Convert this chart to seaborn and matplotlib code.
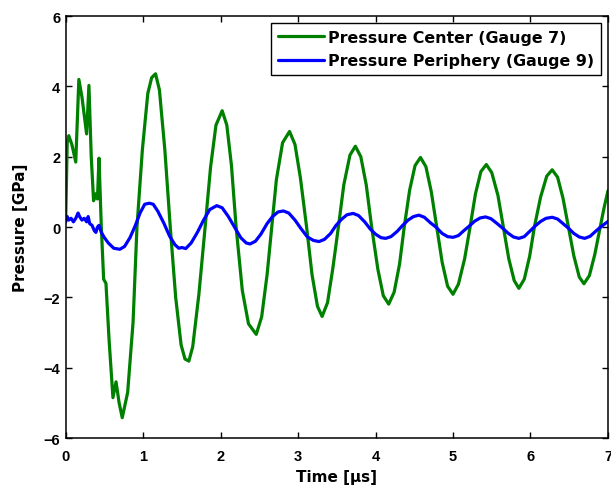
import numpy as np
import pandas as pd
import matplotlib
matplotlib.use("Agg")
import matplotlib.pyplot as plt
import seaborn as sns

# ================= DATA =================
t_center = [0.00, 0.02, 0.04, 0.08, 0.13, 0.17, 0.21, 0.27, 0.30, 0.33,
            0.36, 0.39, 0.41, 0.43, 0.46, 0.49, 0.52, 0.56, 0.61, 0.65,
            0.69, 0.73, 0.80, 0.87, 0.92, 0.99, 1.06, 1.11, 1.16, 1.21,
            1.28, 1.35, 1.42, 1.49, 1.54, 1.59, 1.64, 1.72, 1.80, 1.87,
            1.94, 2.02, 2.08, 2.14, 2.20, 2.28, 2.36, 2.46, 2.53, 2.60,
            2.66, 2.72, 2.80, 2.89, 2.96, 3.03, 3.11, 3.18, 3.25, 3.31,
            3.38, 3.45, 3.52, 3.59, 3.67, 3.74, 3.81, 3.88, 3.95, 4.03,
            4.10, 4.17, 4.24, 4.31, 4.37, 4.44, 4.51, 4.58, 4.65, 4.72,
            4.79, 4.86, 4.93, 5.00, 5.07, 5.15, 5.22, 5.29, 5.36, 5.43,
            5.50, 5.58, 5.65, 5.72, 5.79, 5.85, 5.92, 5.99, 6.05, 6.13,
            6.21, 6.28, 6.35, 6.42, 6.49, 6.56, 6.63, 6.69, 6.76, 6.83,
            6.90, 6.95, 7.00]
p_center = [0.2, 2.4, 2.6, 2.35, 1.85, 4.2, 3.7, 2.65, 4.03, 2.0,
            0.75, 0.95, 0.8, 1.96, 0.0, -1.48, -1.6, -3.2, -4.85, -4.4,
            -5.0, -5.42, -4.7, -2.7, 0.0, 2.2, 3.8, 4.25, 4.36, 3.9,
            2.2, 0.0, -2.0, -3.35, -3.75, -3.81, -3.4, -1.9, 0.0, 1.7,
            2.9, 3.31, 2.9, 1.75, 0.0, -1.8, -2.75, -3.05, -2.55, -1.35,
            0.0, 1.35, 2.4, 2.72, 2.35, 1.4, 0.0, -1.35, -2.25, -2.54,
            -2.15, -1.15, 0.0, 1.2, 2.05, 2.30, 2.0, 1.2, 0.0, -1.2,
            -1.95, -2.19, -1.85, -1.05, 0.0, 1.05, 1.75, 1.98, 1.72, 1.0,
            0.0, -1.0, -1.68, -1.91, -1.62, -0.9, 0.0, 0.95, 1.58, 1.78,
            1.55, 0.9, 0.0, -0.9, -1.52, -1.74, -1.48, -0.82, 0.0, 0.85,
            1.45, 1.63, 1.42, 0.82, 0.0, -0.82, -1.42, -1.61, -1.38, -0.78,
            0.0, 0.55, 1.03]

t_periph = [0.00, 0.02, 0.04, 0.07, 0.10, 0.13, 0.16, 0.18, 0.21, 0.24,
            0.27, 0.29, 0.31, 0.34, 0.37, 0.39, 0.41, 0.43, 0.46, 0.50,
            0.55, 0.62, 0.70, 0.76, 0.83, 0.90, 0.96, 1.02, 1.08, 1.13,
            1.19, 1.27, 1.34, 1.41, 1.46, 1.50, 1.55, 1.62, 1.70, 1.78,
            1.86, 1.95, 2.02, 2.10, 2.18, 2.26, 2.33, 2.38, 2.45, 2.52,
            2.60, 2.67, 2.74, 2.81, 2.88, 2.96, 3.04, 3.12, 3.20, 3.27,
            3.34, 3.42, 3.49, 3.56, 3.63, 3.71, 3.78, 3.86, 3.93, 4.00,
            4.07, 4.13, 4.20, 4.28, 4.35, 4.42, 4.49, 4.56, 4.63, 4.71,
            4.78, 4.86, 4.93, 5.00, 5.07, 5.14, 5.21, 5.28, 5.35, 5.42,
            5.49, 5.57, 5.64, 5.71, 5.78, 5.85, 5.92, 5.99, 6.06, 6.13,
            6.20, 6.28, 6.35, 6.42, 6.49, 6.56, 6.63, 6.70, 6.77, 6.84,
            6.92, 7.00]
p_periph = [0.15, 0.3, 0.2, 0.25, 0.15, 0.25, 0.4, 0.3, 0.2, 0.25,
            0.15, 0.3, 0.1, 0.05, -0.1, -0.15, 0.0, 0.05, -0.15, -0.3,
            -0.45, -0.6, -0.63, -0.55, -0.3, 0.05, 0.4, 0.65, 0.68, 0.65,
            0.45, 0.1, -0.25, -0.5, -0.6, -0.58, -0.61, -0.45, -0.15, 0.2,
            0.5, 0.61, 0.55, 0.3, 0.0, -0.3, -0.45, -0.48, -0.4, -0.2,
            0.1, 0.3, 0.43, 0.46, 0.4, 0.2, -0.05, -0.28, -0.38, -0.41,
            -0.35, -0.18, 0.05, 0.22, 0.35, 0.39, 0.33, 0.15, -0.05, -0.2,
            -0.3, -0.32, -0.27, -0.12, 0.05, 0.2, 0.3, 0.34, 0.28, 0.12,
            0.0, -0.18, -0.27, -0.29, -0.24, -0.1, 0.03, 0.17, 0.26, 0.29,
            0.24, 0.1, -0.03, -0.17, -0.28, -0.32, -0.27, -0.12, 0.03, 0.16,
            0.25, 0.28, 0.23, 0.1, -0.03, -0.18, -0.28, -0.32, -0.26, -0.12,
            0.03, 0.16]

labels = ["Pressure Center (Gauge 7)", "Pressure Periphery (Gauge 9)"]
colors = ["#008000", "#0000ff"]

df = pd.concat([
    pd.DataFrame({"time": t_center, "pressure": p_center, "series": labels[0]}),
    pd.DataFrame({"time": t_periph, "pressure": p_periph, "series": labels[1]}),
])

# ================= PLOT =================
sns.set_style("ticks")
plt.rcParams["font.family"] = ["Liberation Sans", "DejaVu Sans"]
plt.rcParams["font.weight"] = "bold"
for k in ["text.color", "axes.labelcolor", "xtick.color", "ytick.color", "axes.edgecolor"]:
    plt.rcParams[k] = "black"

label_font = dict(family=["DejaVu Sans"], size=11, weight="bold")

fig = plt.figure(figsize=(6.11, 4.89), dpi=100)
ax = fig.add_axes([0.1075, 0.102, 0.8875, 0.863])

sns.lineplot(data=df, x="time", y="pressure", hue="series", palette=colors,
             linewidth=2.3, sort=False, ax=ax)

ax.set_xlim(0, 7)
ax.set_ylim(-6, 6)
ax.set_xticks(range(0, 8))
ax.set_yticks(range(-6, 7, 2))
ax.set_yticklabels([str(v).replace("-", "\u2212") for v in range(-6, 7, 2)])
ax.tick_params(direction="in", length=4, width=1, top=True, right=True,
               labelsize=10.5)
ax.tick_params(axis="x", pad=8)
ax.tick_params(axis="y", pad=4)
for s in ax.spines.values():
    s.set_linewidth(1.1)
    s.set_visible(True)
for lab in ax.get_xticklabels() + ax.get_yticklabels():
    lab.set_fontweight("bold")

ax.set_xlabel("Time [\u03bcs]", fontdict=label_font, labelpad=4)
ax.set_ylabel("Pressure [GPa]", fontdict=label_font, labelpad=11)

leg = ax.legend(loc="upper right", frameon=True, fancybox=False,
                prop=dict(family=["DejaVu Sans"], size=11.4, weight="bold"),
                edgecolor="black", framealpha=1, borderpad=0.4,
                handlelength=2.9, handletextpad=0.3, labelspacing=0.55,
                borderaxespad=0.45)
leg.get_frame().set_linewidth(1.0)

fig.savefig("out.png", dpi=100)
